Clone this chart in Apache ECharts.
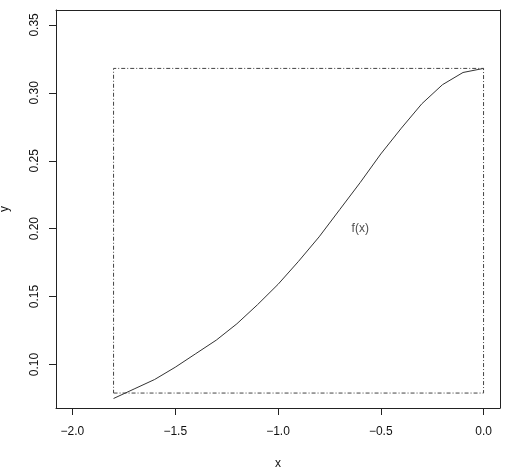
<!DOCTYPE html>
<html><head><meta charset="utf-8">
<script src="https://cdn.jsdelivr.net/npm/echarts@6/dist/echarts.min.js"></script>
<style>html,body{margin:0;padding:0;background:#fff}#c{width:505px;height:475px}</style>
</head><body><div id="c"></div>
<script>
var curveX = [-1.8,-1.7,-1.6,-1.5,-1.4,-1.3,-1.2,-1.1,-1.0,-0.9,-0.8,-0.7,-0.6,-0.5,-0.4,-0.3,-0.2,-0.1,0.0];
var curveY = [0.075,0.082,0.089,0.098,0.108,0.118,0.130,0.144,0.159,0.176,0.194,0.214,0.234,0.255,0.274,0.292,0.306,0.315,0.318];
var rectX = [-1.8, 0, 0, -1.8, -1.8];
var rectY = [0.079, 0.079, 0.318, 0.318, 0.079];
var xTicks = [-2.0,-1.5,-1.0,-0.5,0.0];
var yTicks = [0.10,0.15,0.20,0.25,0.30,0.35];
var labelPos = [-0.6, 0.2];
var labelText = 'f(x)';

var font = 'Liberation Sans, Arial, Helvetica, sans-serif';
var X_MIN = -2.08, X_MAX = 0.08, Y_MIN = 0.068, Y_MAX = 0.361;
var lineC = '#222';
function frameAxis(pos, min, max){
  return {type:'value',position:pos,min:min,max:max,
    axisLine:{show:true,onZero:false,lineStyle:{color:lineC,width:1}},
    axisTick:{show:false},axisLabel:{show:false},splitLine:{show:false}};
}
var chart = echarts.init(document.getElementById('c'), null, {renderer:'canvas'});
chart.setOption({
  animation:false,
  backgroundColor:'#fff',
  grid:{left:56,top:10,right:5,bottom:67,containLabel:false,outerBoundsMode:'none'},
  xAxis:[{type:'value',position:'bottom',min:X_MIN,max:X_MAX,
    name:'x',nameLocation:'middle',nameGap:50,nameTextStyle:{fontFamily:font,fontSize:12,color:'#111'},
    axisLine:{show:true,onZero:false,lineStyle:{color:lineC,width:1}},splitLine:{show:false},
    axisTick:{show:true,length:7,customValues:xTicks},
    axisLabel:{show:true,margin:18,fontFamily:font,fontSize:12,color:'#111',customValues:xTicks,
      formatter:function(v){return v.toFixed(1).replace('-','\u2212');}}},
    frameAxis('top', X_MIN, X_MAX)],
  yAxis:[{type:'value',position:'left',min:Y_MIN,max:Y_MAX,
    name:'y',nameLocation:'middle',nameGap:45,nameTextStyle:{fontFamily:font,fontSize:12,color:'#111'},
    axisLine:{show:true,onZero:false,lineStyle:{color:lineC,width:1}},splitLine:{show:false},
    axisTick:{show:true,length:7,customValues:yTicks},
    axisLabel:{show:true,margin:15,rotate:90,fontFamily:font,fontSize:12,color:'#111',customValues:yTicks,
      formatter:function(v){return v.toFixed(2);}}},
    frameAxis('right', Y_MIN, Y_MAX)],
  series:[
    {type:'line',data:curveX.map(function(x,i){return [x,curveY[i]];}),symbol:'none',
      lineStyle:{color:'#333',width:1},silent:true},
    {type:'line',data:rectX.map(function(x,i){return [x,rectY[i]];}),symbol:'none',
      lineStyle:{color:'#444',width:1,type:[4,2,1,2]},silent:true},
    {type:'scatter',data:[labelPos],symbolSize:0,silent:true,
      label:{show:true,position:'inside',formatter:labelText,fontFamily:font,fontSize:12,color:'#222'}}
  ]
});
</script></body></html>
